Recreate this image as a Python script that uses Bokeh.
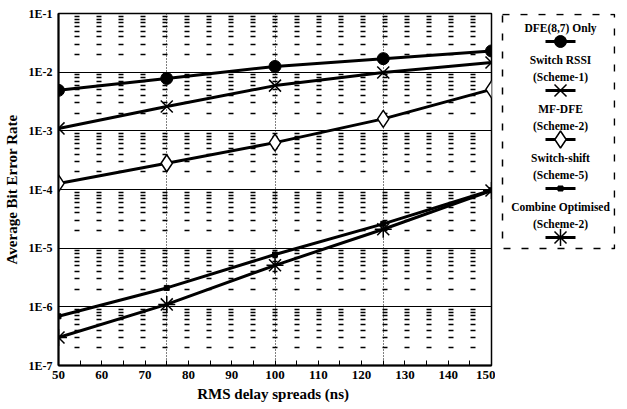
from bokeh.plotting import figure
from bokeh.layouts import row
from bokeh.models import FixedTicker, CustomJSTickFormatter, Range1d, ColumnDataSource
from bokeh.core.properties import value
from bokeh.embed import file_html
from bokeh.resources import INLINE

# ---- data ----
delay_ns = [50, 75, 100, 125, 150]
dfe_only = [4.9e-3, 7.8e-3, 1.25e-2, 1.7e-2, 2.3e-2]
switch_rssi = [1.1e-3, 2.6e-3, 5.9e-3, 9.9e-3, 1.46e-2]
mf_dfe = [1.27e-4, 2.8e-4, 6.3e-4, 1.6e-3, 5.1e-3]
switch_shift = [6.9e-7, 2.1e-6, 7.8e-6, 2.6e-5, 9.7e-5]
combine_opt = [3.0e-7, 1.1e-6, 5.1e-6, 2.1e-5, 9.6e-5]

series_labels = [["DFE(8,7) Only"],
                 ["Switch RSSI", "(Scheme-1)"],
                 ["MF-DFE", "(Scheme-2)"],
                 ["Switch-shift", "(Scheme-5)"],
                 ["Combine Optimised", "(Scheme-2)"]]
x_ticks = [50, 60, 70, 80, 90, 100, 110, 120, 130, 140, 150]
x_minor = [55, 65, 75, 85, 95, 105, 115, 125, 135, 145]
x_grid = [75, 100, 125]
y_decades = [1e-7, 1e-6, 1e-5, 1e-4, 1e-3, 1e-2, 1e-1]

FONT = "Liberation Serif"
TOP, BOTTOM = 13, 41
FRAME_H = 352
FIG_H = TOP + FRAME_H + BOTTOM

series = [dfe_only, switch_rssi, mf_dfe, switch_shift, combine_opt]
styles = [
    dict(marker="circle", size=12, fill_color="black", line_width=1),
    dict(marker="x", size=17, fill_color=None, line_width=1.5),
    dict(marker="diamond", size=17, fill_color="white", line_width=1.5),
    dict(marker="square", size=5, fill_color="black", line_width=1),
    dict(marker="asterisk", size=17, fill_color=None, line_width=1.5),
]

p = figure(width=495, height=FIG_H, y_axis_type="log",
           x_range=Range1d(50, 150), y_range=Range1d(1e-7, 1e-1),
           output_backend="svg", toolbar_location=None,
           min_border_left=58, min_border_right=4,
           min_border_top=TOP, min_border_bottom=BOTTOM)

p.outline_line_color = "black"
p.outline_line_width = 1.5
p.background_fill_color = "white"
p.border_fill_color = "white"

# grids
p.xgrid.ticker = FixedTicker(ticks=x_grid)
p.xgrid.grid_line_color = "black"
p.xgrid.grid_line_dash = "1 2"
p.xgrid.grid_line_width = 1

y_minor = [k * d for d in y_decades[:-1] for k in range(2, 10)]
p.ygrid.ticker = FixedTicker(ticks=y_decades, minor_ticks=y_minor)
p.ygrid.grid_line_color = "black"
p.ygrid.grid_line_width = 1
p.ygrid.minor_grid_line_color = "black"
p.ygrid.minor_grid_line_width = 1.5
p.ygrid.minor_grid_line_dash = "5 17"
p.ygrid.minor_grid_line_dash_offset = 6

# axes
p.xaxis.ticker = FixedTicker(ticks=x_ticks, minor_ticks=x_minor)
p.xaxis.major_tick_in = 5
p.xaxis.major_tick_out = 0
p.xaxis.minor_tick_in = 5
p.xaxis.minor_tick_out = 0
p.xaxis.axis_line_width = 2
p.xaxis.major_label_standoff = 5
p.xaxis.axis_label = "RMS delay spreads  (ns)"
p.xaxis.axis_label_standoff = 4

p.yaxis.ticker = FixedTicker(ticks=y_decades, minor_ticks=[])
p.yaxis.formatter = CustomJSTickFormatter(code="return '1E' + Math.round(Math.log10(tick));")
p.yaxis.major_tick_in = 0
p.yaxis.major_tick_out = 0
p.yaxis.minor_tick_in = 0
p.yaxis.minor_tick_out = 0
p.yaxis.axis_line_width = 2
p.yaxis.major_label_standoff = 6
p.yaxis.axis_label = "Average Bit Error Rate"
p.yaxis.axis_label_standoff = 6

for ax in (p.xaxis, p.yaxis):
    ax.axis_line_color = "black"
    ax.major_tick_line_color = "black"
    ax.minor_tick_line_color = "black"
    ax.major_label_text_font = FONT
    ax.major_label_text_font_style = "bold"
    ax.major_label_text_color = "black"
    ax.axis_label_text_font = FONT
    ax.axis_label_text_font_style = "bold"
    ax.axis_label_text_color = "black"
    ax.axis_label_text_font_size = "15px"
p.xaxis.major_label_text_font_size = "13px"
p.yaxis.major_label_text_font_size = "12px"

for vals, st in zip(series, styles):
    p.line(delay_ns, vals, line_width=3, line_color="black")
    p.scatter(delay_ns, vals, marker=st["marker"], size=st["size"],
              fill_color=st["fill_color"], line_color="black",
              line_width=st["line_width"])

# ---- legend panel (its ranges equal its pixel positions in the picture) ----
LG_W = 124
frame_top = TOP
frame_bot = TOP + FRAME_H
lg = figure(width=LG_W, height=FIG_H,
            x_range=Range1d(500, 615), y_range=Range1d(frame_bot, frame_top),
            output_backend="svg", toolbar_location=None,
            min_border_left=5, min_border_right=4,
            min_border_top=TOP, min_border_bottom=BOTTOM)
lg.axis.visible = False
lg.grid.visible = False
lg.outline_line_color = None
lg.background_fill_color = "white"

box_l, box_r, box_t, box_b = 502, 614, frame_top + 1, 248
lg.quad(left=[box_l], right=[box_r], top=[box_t], bottom=[box_b],
        fill_color=None, line_color="black", line_width=1.5, line_dash="7 11")

cx = 560
half = 15
text_x, text_y, texts = [], [], []
mk_y = []
y = 27
for lines in series_labels:
    for i, t in enumerate(lines):
        if i > 0:
            y += 17
        text_x.append(cx)
        text_y.append(y)
        texts.append(t)
    y += 14
    mk_y.append(y)
    y += 18

lg.text(x="x", y="y", text="t", source=ColumnDataSource(dict(x=text_x, y=text_y, t=texts)),
        text_align="center", text_baseline="middle", text_font=value(FONT),
        text_font_style="bold", text_font_size="11.5px", text_color="black")

for yy, st in zip(mk_y, styles):
    lg.segment(x0=[cx - half], y0=[yy], x1=[cx + half], y1=[yy], line_width=3, line_color="black")
    lg.scatter(x=[cx], y=[yy], marker=st["marker"], size=st["size"],
               fill_color=st["fill_color"], line_color="black", line_width=st["line_width"])

layout = row(p, lg)
open("out.html", "w").write(file_html(layout, INLINE))
